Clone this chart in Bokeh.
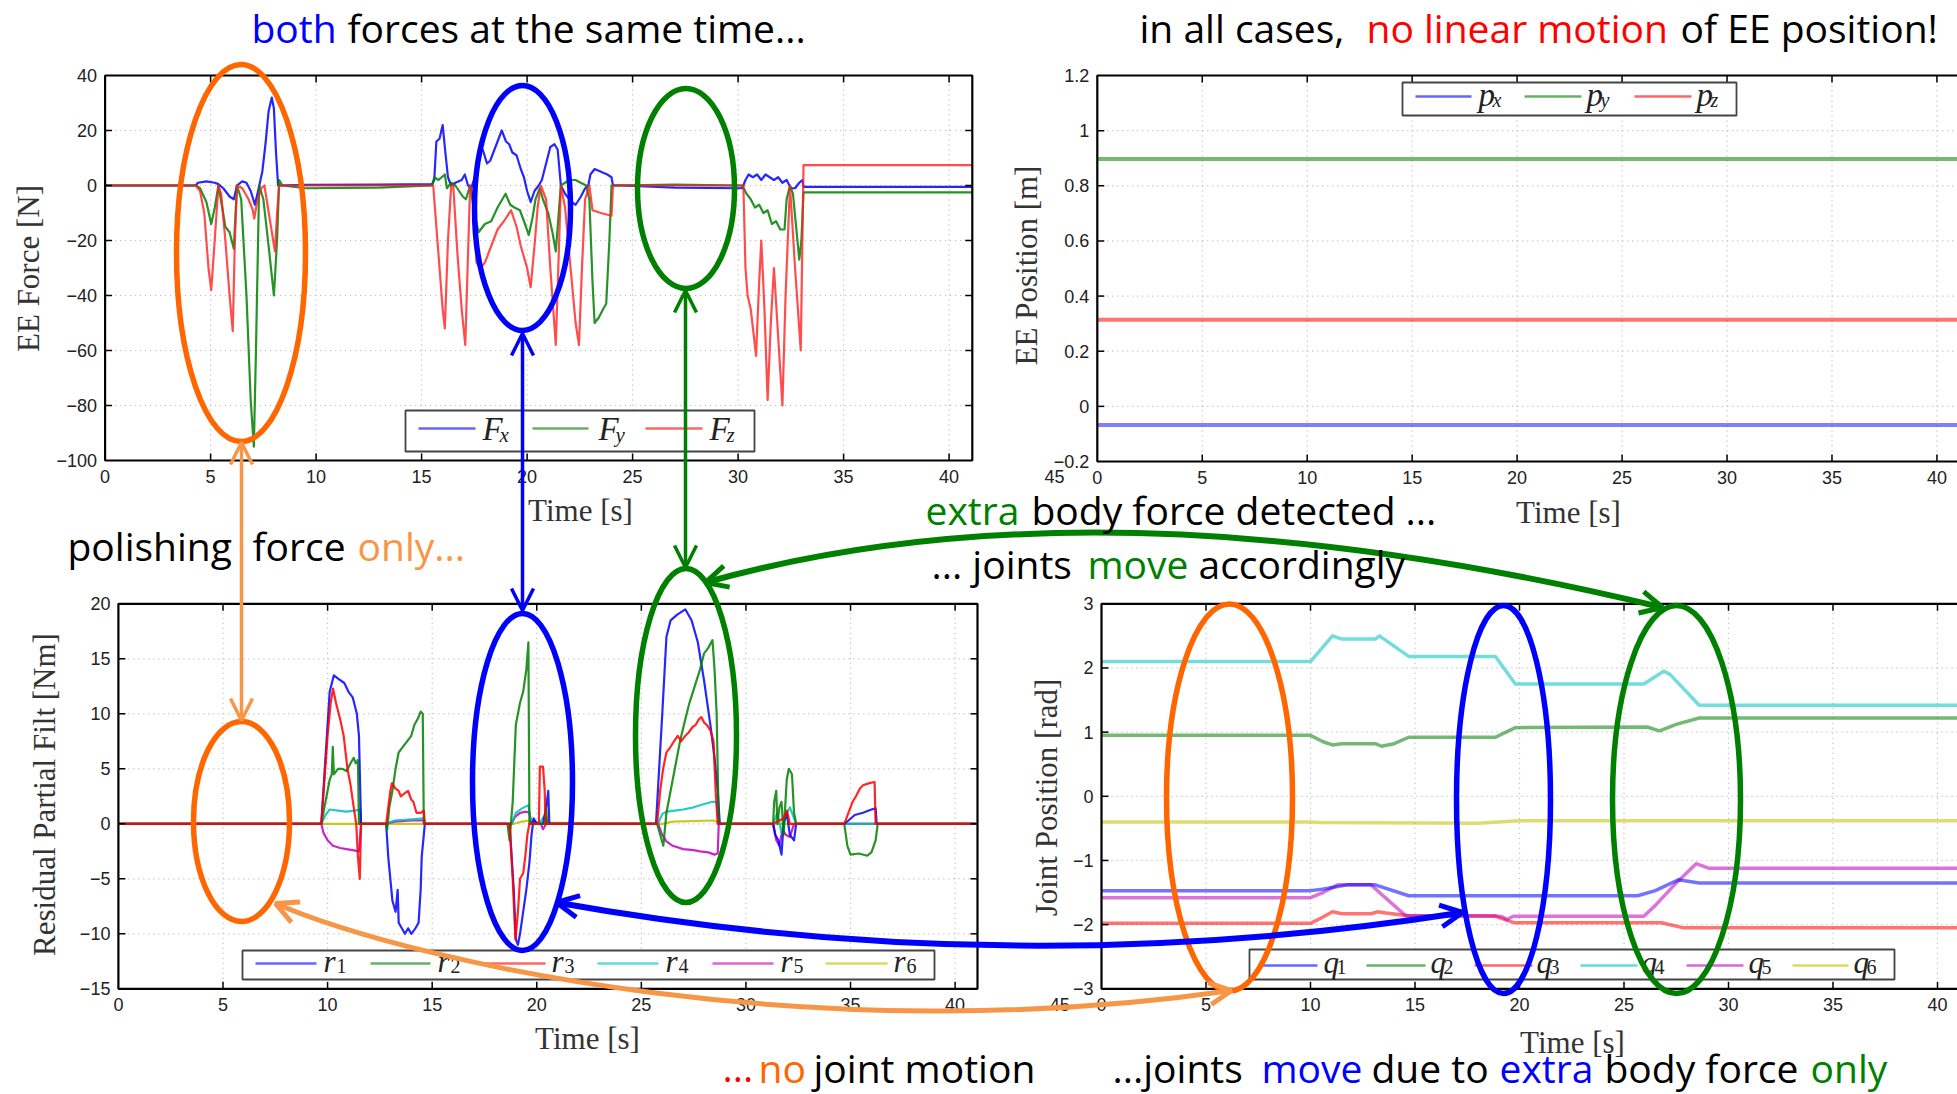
import numpy as np
from bokeh.plotting import figure
from bokeh.models import Range1d, Arrow, OpenHead
from bokeh.core.properties import value
from bokeh.embed import file_html
from bokeh.resources import INLINE

W, H = 1957, 1094

# ---------------- end-effector force [N]: (time [s], value) ----------------
FX = [(0, 0), (4.3, 0), (4.4, 1), (4.8, 1.5), (5.2, 1), (5.37, 0.5), (5.6, -1), (5.9, -4), (6.1, -5),
      (6.25, 0), (6.5, 1.5), (6.7, 1), (6.9, -2), (7.1, -7), (7.25, -2), (7.45, 5), (7.6, 15), (7.75, 27),
      (7.9, 32), (8.0, 28), (8.1, 12), (8.2, 0), (9.5, 0.2), (13, 0.3), (15.5, 0.5), (15.6, 2), (15.7, 16),
      (15.85, 17), (16.0, 22), (16.1, 14), (16.25, 3), (16.4, 0), (16.6, 1), (16.9, 2), (17.05, 4), (17.2, 0),
      (17.35, -1), (17.6, 5), (17.75, 12), (17.9, 13), (18.1, 8), (18.25, 9), (18.5, 14), (18.8, 20),
      (19.0, 16), (19.15, 15), (19.3, 12), (19.5, 11), (19.7, 6), (19.85, 3), (20.0, -2), (20.17, -6),
      (20.35, -2), (20.55, 0), (20.7, 2), (20.9, 8), (21.1, 14), (21.3, 15), (21.45, 13), (21.6, 0),
      (21.8, -3), (22.1, -6), (22.3, -7), (22.55, -4), (22.75, -1), (22.9, 0), (23.0, 4), (23.2, 6),
      (23.5, 5), (23.8, 4), (24.0, 3), (24.07, 0), (24.5, 0), (27, -0.8), (30.2, -1), (30.35, 2), (30.5, 4),
      (30.7, 3), (30.9, 4), (31.1, 2), (31.3, 4), (31.5, 3), (31.7, 2), (31.9, 3), (32.1, 1), (32.3, 2),
      (32.5, -1), (32.7, -1), (32.9, 1), (33.05, 2), (33.1, -0.5), (41.1, -0.5)]
FY = [(0, 0), (4.3, 0), (4.5, -1), (4.8, -6), (5.03, -14), (5.2, -8), (5.37, 0), (5.55, -8), (5.7, -15),
      (5.9, -17), (6.1, -23), (6.25, 0), (6.45, -5), (6.7, -40), (6.9, -78), (7.05, -95), (7.15, -60),
      (7.3, 0), (7.5, -5), (7.75, -22), (8.0, -40), (8.15, -20), (8.25, 2), (8.4, 0), (9.5, -1), (13, -0.8),
      (15.5, 0), (15.6, 3), (15.8, 2), (16.1, 4), (16.2, -1), (16.4, 1), (16.6, 0), (16.95, -4), (17.1, -5),
      (17.3, 0), (17.5, -10), (17.7, -17), (18.0, -14), (18.3, -13), (18.6, -8), (18.98, -3), (19.2, -7),
      (19.4, -8), (19.66, -9), (19.9, -14), (20.08, -18), (20.25, -12), (20.4, -5), (20.6, -1), (20.75, -5),
      (21.0, -10), (21.2, -17), (21.36, -24), (21.5, -10), (21.6, 0), (21.8, 1), (22.0, 2), (22.3, 2),
      (22.54, 1), (22.8, 0), (22.95, -5), (23.1, -35), (23.2, -50), (23.4, -48), (23.6, -45), (23.75, -43),
      (23.9, -20), (24.0, 0), (27, 0.3), (30.2, 0), (30.4, -3), (30.6, -5), (30.8, -8), (31.0, -7),
      (31.2, -10), (31.4, -9), (31.6, -14), (31.8, -13), (32.0, -16), (32.2, -16), (32.3, -5), (32.46, 0),
      (32.6, -3), (32.75, -15), (32.9, -27), (33.0, -20), (33.1, -2.5), (41.1, -2.5)]
FZ = [(0, 0), (4.3, 0), (4.5, -2), (4.7, -10), (4.9, -30), (5.03, -38), (5.15, -25), (5.37, 0), (5.5, -3),
      (5.7, -20), (5.9, -40), (6.05, -53), (6.15, -20), (6.25, 0), (6.5, -1), (6.8, -5), (7.0, -9),
      (7.07, -12), (7.2, -6), (7.4, -1), (7.55, 0), (7.8, -12), (8.05, -24), (8.15, -10), (8.25, 0),
      (15.55, 0), (15.7, -15), (15.85, -30), (16.0, -45), (16.1, -52), (16.25, -20), (16.4, 0), (16.5, 0),
      (16.7, -25), (16.9, -45), (17.07, -58), (17.2, -25), (17.3, 0), (17.45, -5), (17.6, -28), (17.8, -30),
      (18.0, -28), (18.3, -22), (18.6, -16), (18.9, -13), (19.24, -9), (19.5, -15), (19.7, -22), (20.0, -30),
      (20.17, -37), (20.35, -22), (20.5, -8), (20.65, 0), (20.9, -5), (21.1, -30), (21.36, -58), (21.5, -25),
      (21.6, 0), (21.8, -8), (22.0, -25), (22.3, -50), (22.46, -58), (22.6, -30), (22.75, -5), (22.95, 0),
      (23.1, -9), (23.5, -10), (24.0, -11), (24.07, 0), (30.25, 0), (30.35, -30), (30.45, -40), (30.6, -45),
      (30.75, -55), (30.85, -62), (31.0, -35), (31.1, -20), (31.25, -45), (31.4, -78), (31.55, -50),
      (31.7, -30), (31.9, -55), (32.1, -80), (32.25, -40), (32.46, 0), (32.7, -30), (32.97, -60),
      (33.1, 7.4), (41.1, 7.4)]

# ---------------- end-effector position [m] ----------------
PX = [(0, -0.068), (45, -0.068)]
PY = [(0, 0.897), (45, 0.897)]
PZ = [(0, 0.314), (45, 0.314)]

# ---------------- filtered residuals [Nm] ----------------
R1 = [(0, 0), (9.7, 0), (9.9, 6), (10.1, 12), (10.3, 13.5), (10.5, 13.2), (10.8, 12.8), (11.0, 12),
      (11.2, 11.5), (11.4, 10), (11.5, 8), (11.6, 0), (12.8, 0), (12.9, -3), (13.0, -5), (13.1, -7),
      (13.25, -8), (13.35, -6), (13.4, -9), (13.55, -9.5), (13.7, -10), (13.85, -9.5), (14.0, -10),
      (14.2, -9.5), (14.35, -9), (14.45, -6), (14.5, -3), (14.65, 0), (18.7, 0), (18.9, -6), (19.0, -10.5),
      (19.1, -11), (19.2, -10), (19.35, -8), (19.5, -6), (19.65, -3.5), (19.75, -1), (19.85, 0.5),
      (20.0, 0), (20.3, 0), (20.45, 1.5), (20.55, 3), (20.6, 0), (25.7, 0), (25.85, 5), (26.0, 10),
      (26.2, 17), (26.4, 18.5), (26.7, 19), (27.1, 19.5), (27.4, 18.5), (27.7, 16.5), (28.0, 13),
      (28.3, 9), (28.5, 6), (28.65, 3), (28.75, 0), (31.3, 0), (31.4, -1), (31.55, -1.5), (31.7, -2.8),
      (31.8, 0), (31.95, 1), (32.1, -1), (32.3, -1.5), (32.4, 0), (34.7, 0), (34.9, 0.3), (35.2, 0.8),
      (35.6, 1.0), (36.0, 1.3), (36.2, 1.4), (36.25, 0), (41.0, 0)]
R2 = [(0, 0), (9.7, 0), (9.8, 1), (9.95, 2.5), (10.1, 4), (10.2, 4.5), (10.25, 7), (10.3, 4.5), (10.5, 5),
      (10.7, 5), (10.9, 4.8), (11.1, 5.5), (11.25, 6), (11.35, 5.5), (11.45, 5.8), (11.5, 0), (12.8, 0),
      (12.85, -0.5), (12.95, 1.5), (13.1, 3), (13.25, 5), (13.4, 6.5), (13.6, 7), (13.8, 7.5), (14.0, 8),
      (14.15, 9), (14.3, 9.5), (14.45, 10.2), (14.55, 10), (14.6, 0), (18.6, 0), (18.7, -1.5), (18.85, 2),
      (19.0, 9), (19.2, 11), (19.35, 12), (19.5, 14), (19.6, 16.5), (19.65, 0), (20.4, 0), (20.45, 1.5),
      (20.5, 0), (25.75, 0), (25.9, -1), (26.05, -2), (26.2, 1), (26.4, 3), (26.6, 5), (26.85, 7.5),
      (27.1, 9.5), (27.3, 11), (27.55, 12.5), (27.8, 14), (28.0, 15.5), (28.2, 16), (28.4, 16.7),
      (28.5, 14), (28.6, 10), (28.7, 0), (31.3, 0), (31.35, 2), (31.45, 3), (31.5, 0), (31.6, 1.5),
      (31.7, 2), (31.8, -1), (31.95, 4), (32.05, 5), (32.2, 4.5), (32.3, 1), (32.4, 0), (34.7, 0),
      (34.85, -2), (35.0, -2.8), (35.4, -2.7), (35.8, -2.9), (36.0, -2.6), (36.2, -1.5), (36.3, 0), (41.0, 0)]
R3 = [(0, 0), (9.7, 0), (9.85, 4), (10.0, 8), (10.15, 11), (10.26, 12.3), (10.4, 11), (10.6, 9.5),
      (10.77, 8), (10.95, 5), (11.1, 3.5), (11.25, 1.5), (11.37, 0), (11.45, -3), (11.54, -5), (11.6, 0),
      (12.8, 0), (12.9, 1.5), (13.0, 3), (13.08, 3.7), (13.25, 3.2), (13.4, 3), (13.5, 2.5), (13.7, 2.8),
      (13.85, 3), (14.0, 2.2), (14.1, 2), (14.25, 1), (14.45, 1), (14.6, 1.2), (14.65, 0), (18.7, 0),
      (18.85, -5), (18.98, -10.5), (19.1, -8), (19.2, -5), (19.35, -4.5), (19.45, -3), (19.55, -1),
      (19.65, 0), (20.1, 0), (20.15, 5.2), (20.3, 5.2), (20.38, 3), (20.42, 0), (25.75, 0), (25.9, 3),
      (26.04, 5), (26.2, 6.5), (26.4, 7), (26.56, 7.5), (26.74, 8), (26.9, 7.5), (27.1, 8), (27.26, 8.3),
      (27.45, 8.8), (27.6, 9), (27.75, 9.5), (27.87, 9.7), (28.0, 9.2), (28.13, 9), (28.3, 8.5),
      (28.45, 7.5), (28.55, 3), (28.65, 0), (31.3, 0), (31.8, 0.5), (31.96, 1.2), (32.1, 0), (34.7, 0),
      (34.9, 1), (35.1, 2), (35.26, 2.5), (35.45, 3.2), (35.6, 3.5), (35.9, 3.7), (36.15, 3.8), (36.2, 0),
      (41.0, 0)]
R4 = [(0, 0), (9.7, 0), (9.9, 0.8), (10.1, 1.3), (10.5, 1.2), (10.9, 1.1), (11.3, 1.2), (11.55, 1.3),
      (11.6, 0), (12.8, 0), (13.2, 0.3), (14.0, 0.4), (14.6, 0.5), (14.65, 0), (18.8, 0), (19.0, 1.0),
      (19.3, 1.4), (19.6, 1.7), (19.7, 0.4), (20.1, 0), (20.4, 0.8), (20.5, 0), (25.8, 0), (26.0, 0.9),
      (26.2, 1.1), (26.6, 1.2), (27.0, 1.3), (27.5, 1.5), (28.0, 1.8), (28.4, 2.0), (28.6, 2.0), (28.7, 0),
      (31.3, 0), (31.5, 1), (31.7, -0.8), (31.9, 0.8), (32.1, 1.5), (32.3, 0.5), (32.4, 0), (41.0, 0)]
R5 = [(0, 0), (9.7, 0), (9.8, -0.8), (10.0, -1.5), (10.26, -2), (10.6, -2.2), (10.9, -2.3), (11.2, -2.4),
      (11.5, -2.5), (11.6, 0), (12.8, 0), (13.2, 0.2), (14.0, 0.3), (14.6, 0.3), (14.65, 0), (18.8, 0),
      (18.95, 0.6), (19.2, 1.0), (19.5, 1.1), (19.65, 1.0), (19.75, 0), (20.2, 0), (20.3, -0.5), (20.45, 0),
      (25.8, 0), (26.0, -1.0), (26.2, -1.6), (26.5, -2.0), (27.0, -2.3), (27.5, -2.4), (27.8, -2.5),
      (28.2, -2.6), (28.5, -2.8), (28.65, -2.7), (28.7, 0), (31.3, 0), (31.45, -1.5), (31.6, -2),
      (31.75, -0.5), (31.9, -1), (32.1, -1.2), (32.3, 0), (41.0, 0)]
R6 = [(0, 0), (18.9, 0), (19.3, 0.2), (19.6, 0.3), (19.8, 0.1), (26, 0), (26.5, 0.2), (28.5, 0.3),
      (28.7, 0), (41.0, 0)]

# ---------------- joint positions [rad] ----------------
Q1 = [(0, -1.47), (10, -1.47), (10.56, -1.45), (11.75, -1.38), (13.1, -1.38), (14.7, -1.55), (25.65, -1.55),
      (26.5, -1.47), (27.6, -1.3), (28.6, -1.35), (45, -1.35)]
Q2 = [(0, 0.95), (10, 0.95), (10.6, 0.85), (11.05, 0.8), (11.5, 0.82), (13.1, 0.82), (13.4, 0.78),
      (14.0, 0.82), (14.7, 0.92), (18.85, 0.92), (19.8, 1.07), (26.1, 1.08), (26.7, 1.02), (27.5, 1.12),
      (28.6, 1.22), (45, 1.22)]
Q3 = [(0, -1.98), (10, -1.98), (10.6, -1.88), (11.05, -1.8), (11.5, -1.83), (12.9, -1.83), (13.2, -1.8),
      (13.6, -1.82), (14.7, -1.86), (18.85, -1.87), (19.73, -1.97), (26.8, -1.97), (27.85, -2.05), (45, -2.05)]
Q4 = [(0, 2.1), (10, 2.1), (11.05, 2.5), (11.5, 2.45), (13.1, 2.45), (13.3, 2.5), (14.7, 2.18),
      (18.85, 2.18), (19.8, 1.75), (25.95, 1.75), (26.9, 1.95), (27.2, 1.9), (28.6, 1.42), (45, 1.42)]
Q5 = [(0, -1.58), (10, -1.58), (10.6, -1.5), (11.3, -1.38), (12.9, -1.38), (13.3, -1.5), (14.55, -1.86),
      (18.85, -1.86), (19.2, -1.88), (19.4, -1.92), (19.7, -1.87), (25.95, -1.87), (26.5, -1.7),
      (27.5, -1.35), (28.45, -1.05), (29.05, -1.12), (45, -1.12)]
Q6 = [(0, -0.4), (10, -0.4), (10.5, -0.41), (18, -0.42), (20, -0.38), (45, -0.38)]

X_TICKS_L = [0, 5, 10, 15, 20, 25, 30, 35, 40, 45]
X_TICKS_R = [0, 5, 10, 15, 20, 25, 30, 35, 40]
F_TICKS = [40, 20, 0, -20, -40, -60, -80, -100]
P_TICKS = [1.2, 1.0, 0.8, 0.6, 0.4, 0.2, 0.0, -0.2]
P_LABELS = ["1.2", "1", "0.8", "0.6", "0.4", "0.2", "0", "\u22120.2"]
R_TICKS = [20, 15, 10, 5, 0, -5, -10, -15]
Q_TICKS = [3, 2, 1, 0, -1, -2, -3]

BLUE, GREEN, RED = "#0000ff", "#008000", "#ff0000"
CYAN, MAGENTA, YELLOW = "#00bfbf", "#bf00bf", "#bfbf00"
ORANGE, LORANGE = "#ff6600", "#f79646"

SANS = value("Liberation Sans")
SERIF = value("Liberation Serif")
NOTE = value("Open Sans")

p = figure(width=W, height=H, x_range=Range1d(0, W), y_range=Range1d(H, 0),
           output_backend="svg", toolbar_location=None, min_border=0,
           x_axis_location=None, y_axis_location=None)
p.grid.grid_line_color = None
p.outline_line_color = None
p.background_fill_color = "white"


def lab(v):
    s = f"{v:g}"
    return s.replace("-", "\u2212")


def panel(xlim, ylim, box):
    left, right, top, bottom = box
    return p.subplot(x_source=Range1d(*xlim), y_source=Range1d(*ylim),
                     x_target=Range1d(left, right), y_target=Range1d(bottom, top))


def grid(sub, xlim, ylim, xticks, yticks):
    gx = [t for t in xticks if xlim[0] < t < xlim[1]]
    gy = [t for t in yticks if ylim[0] < t < ylim[1]]
    sub.segment(x0=gx, y0=[ylim[0]] * len(gx), x1=gx, y1=[ylim[1]] * len(gx),
                line_color="#b5b5b5", line_dash="1 4", line_width=1.2)
    sub.segment(x0=[xlim[0]] * len(gy), y0=gy, x1=[xlim[1]] * len(gy), y1=gy,
                line_color="#b5b5b5", line_dash="1 4", line_width=1.2)


def dress(sub, xlim, ylim, box, xticks, yticks, ylabels):
    left, right, top, bottom = box
    sx = (right - left) / (xlim[1] - xlim[0])
    sy = (bottom - top) / (ylim[1] - ylim[0])
    gx = [t for t in xticks if xlim[0] < t < xlim[1]]
    gy = [t for t in yticks if ylim[0] < t < ylim[1]]
    n, m = len(gx), len(gy)
    tl = 7.0
    sub.segment(x0=gx, y0=[ylim[0]] * n, x1=gx, y1=[ylim[0] + tl / sy] * n, line_color="black", line_width=1.5)
    sub.segment(x0=gx, y0=[ylim[1]] * n, x1=gx, y1=[ylim[1] - tl / sy] * n, line_color="black", line_width=1.5)
    sub.segment(x0=[xlim[0]] * m, y0=gy, x1=[xlim[0] + tl / sx] * m, y1=gy, line_color="black", line_width=1.5)
    sub.segment(x0=[xlim[1]] * m, y0=gy, x1=[xlim[1] - tl / sx] * m, y1=gy, line_color="black", line_width=1.5)
    sub.quad(left=[xlim[0]], right=[xlim[1]], bottom=[ylim[0]], top=[ylim[1]],
             fill_color=None, line_color="black", line_width=2.2)
    sub.text(x=xticks, y=[ylim[0]] * len(xticks), text=[lab(t) for t in xticks],
             y_offset=9, text_align="center", text_baseline="top",
             text_font=SANS, text_font_size="18px", text_color="#222222")
    sub.text(x=[xlim[0]] * len(yticks), y=yticks, text=ylabels,
             x_offset=-8, text_align="right", text_baseline="middle",
             text_font=SANS, text_font_size="18px", text_color="#222222")


def series(sub, pts, color, width, alpha):
    t, v = zip(*pts)
    sub.line(x=list(t), y=list(v), line_color=color, line_width=width, line_alpha=alpha,
             line_join="round")


# ---- top left: EE force
xl, yl, box = (0, 41.1), (-100, 40), (104.6, 971.8, 75, 460)
s1 = panel(xl, yl, box)
grid(s1, xl, yl, X_TICKS_L, F_TICKS)
series(s1, FX, BLUE, 2.2, 0.85)
series(s1, FY, GREEN, 2.2, 0.85)
series(s1, FZ, "#ff2020", 2.2, 0.8)
dress(s1, xl, yl, box, X_TICKS_L, F_TICKS, [lab(t) for t in F_TICKS])

# ---- top right: EE position
xl2, yl2, box2 = (0, 45), (-0.2, 1.2), (1096.8, 2041.4, 75, 461)
s2 = panel(xl2, yl2, box2)
grid(s2, xl2, yl2, X_TICKS_R, P_TICKS)
series(s2, PX, BLUE, 4, 0.5)
series(s2, PY, GREEN, 4, 0.55)
series(s2, PZ, RED, 4, 0.55)
dress(s2, xl2, yl2, box2, X_TICKS_R, P_TICKS, P_LABELS)

# ---- bottom left: residuals
xl3, yl3, box3 = (0, 41.07), (-15, 20), (117.9, 977, 603.3, 988.3)
s3 = panel(xl3, yl3, box3)
grid(s3, xl3, yl3, X_TICKS_L, R_TICKS)
for pts, c in ((R6, YELLOW), (R5, MAGENTA), (R4, CYAN), (R1, BLUE), (R2, GREEN), (R3, RED)):
    series(s3, pts, c, 2.2, 0.85)
dress(s3, xl3, yl3, box3, X_TICKS_L, R_TICKS, [lab(t) for t in R_TICKS])

# ---- bottom right: joint positions
xl4, yl4, box4 = (0, 45), (-3, 3), (1101, 2041.5, 603.3, 988.3)
s4 = panel(xl4, yl4, box4)
grid(s4, xl4, yl4, X_TICKS_R, Q_TICKS)
for pts, c in ((Q6, YELLOW), (Q2, GREEN), (Q4, CYAN), (Q3, RED), (Q5, MAGENTA), (Q1, BLUE)):
    series(s4, pts, c, 3.5, 0.55)
dress(s4, xl4, yl4, box4, X_TICKS_R, Q_TICKS, [lab(t) for t in Q_TICKS])

# ---- axis titles
AX = [("EE Force [N]", 28, 268, np.pi / 2), ("Time [s]", 580, 510, 0),
      ("EE Position [m]", 1026, 265, np.pi / 2), ("Time [s]", 1568, 512, 0),
      ("Residual Partial Filt [Nm]", 44, 794, np.pi / 2), ("Time [s]", 587, 1038, 0),
      ("Joint Position [rad]", 1046, 797, np.pi / 2), ("Time [s]", 1572, 1042, 0)]
for txt, x, y, a in AX:
    p.text(x=[x], y=[y], text=[txt], angle=a, text_align="center", text_baseline="middle",
           text_font=SERIF, text_font_size="31px", text_color="#333333")


# ---- legends
def legend(box, items, ly, ty, sub_dx, sub_dy, symbol, main_size, sub_size):
    x0, y0, x1, y1 = box
    p.quad(left=[x0], right=[x1], top=[y0], bottom=[y1], fill_color="white",
           line_color="#444444", line_width=1.8)
    for (lx0, lx1, tx, c, s) in items:
        p.segment(x0=[lx0], y0=[ly], x1=[lx1], y1=[ly], line_color=c, line_width=2.4, line_alpha=0.6)
        p.text(x=[tx], y=[ty], text=[symbol], text_font=SERIF, text_font_style="italic",
               text_font_size=main_size, text_baseline="alphabetic", text_color="#222222")
        p.text(x=[tx + sub_dx], y=[ty + sub_dy], text=[s], text_font=SERIF,
               text_font_style="italic" if s.isalpha() else "normal",
               text_font_size=sub_size, text_baseline="alphabetic", text_color="#222222")


legend((405, 410, 754, 451), [(418, 475, 482, BLUE, "x"), (532, 588, 598, GREEN, "y"),
                              (645, 702, 709, RED, "z")], 428, 428, 17, 6, "F", "33px", "21px")
legend((1402, 82, 1736, 115), [(1415, 1471, 1478, BLUE, "x"), (1524, 1581, 1586, GREEN, "y"),
                               (1634, 1691, 1696, RED, "z")], 96, 94, 14, 5, "p", "33px", "20px")
legend((242, 950, 934, 979), [(255, 316, 323, BLUE, "1"), (370, 430, 437, GREEN, "2"),
                              (484, 545, 551, RED, "3"), (597, 658, 665, CYAN, "4"),
                              (712, 773, 780, MAGENTA, "5"), (825, 887, 893, YELLOW, "6")],
       963, 961, 13, 4, "r", "31px", "20px")
legend((1249, 949, 1894, 979), [(1262, 1317, 1323, BLUE, "1"), (1366, 1425, 1430, GREEN, "2"),
                                (1474, 1532, 1536, RED, "3"), (1580, 1637, 1641, CYAN, "4"),
                                (1686, 1743, 1748, MAGENTA, "5"), (1792, 1848, 1853, YELLOW, "6")],
       965, 962, 13, 4, "q", "31px", "20px")

# ---- highlight ellipses
ELL = [(240.5, 252.5, 129, 377, ORANGE), (522, 207.5, 96, 245, BLUE), (685.5, 188, 97, 200, GREEN),
       (241, 821, 96, 200, ORANGE), (522, 781.5, 100, 337, BLUE), (685.5, 735, 101, 334, GREEN),
       (1229, 797, 126, 387, ORANGE), (1503, 799, 94, 388, BLUE), (1676, 799, 128, 388, GREEN)]
for x, y, w, h, c in ELL:
    p.ellipse(x=[x], y=[y], width=[w], height=[h], fill_color=None, line_color=c, line_width=5.5)


def head(c, w):
    return OpenHead(size=22, line_color=c, line_width=w)


# straight double arrows
for x, ya, yb, c in ((241, 442, 720, LORANGE), (522, 333, 610, BLUE), (685, 290, 567, GREEN)):
    p.add_layout(Arrow(start=head(c, 3.5), end=head(c, 3.5), x_start=x, y_start=ya, x_end=x, y_end=yb,
                       line_color=c, line_width=3.5))


def tip(x, y, dx, dy, c, w):
    p.add_layout(Arrow(end=head(c, w), x_start=x + dx, y_start=y + dy, x_end=x, y_end=y,
                       line_alpha=0, line_width=0))


# curved double arrows
p.quadratic(x0=[705], y0=[582], x1=[1662], y1=[607], cx=[1100], cy=[471], line_color=GREEN, line_width=6)
tip(705, 582, 39.5, -11.1, GREEN, 5)
tip(1662, 607, -56.2, -13.6, GREEN, 5)
p.quadratic(x0=[556], y0=[902], x1=[1462], y1=[912], cx=[1009], cy=[983], line_color=BLUE, line_width=6)
tip(556, 902, 45.3, 8.1, BLUE, 5)
tip(1462, 912, -45.3, 7.1, BLUE, 5)
p.bezier(x0=[275], y0=[903], x1=[1231], y1=[990], cx0=[420], cy0=[965], cx1=[820], cy1=[1050],
         line_color=LORANGE, line_width=5)
tip(275, 903, 36.0, 15.4, LORANGE, 5)
tip(1231, 990, -41.1, 6.0, LORANGE, 5)

# ---- annotation texts
BLK = "#000000"
NOTES = [
    (251, 27, "both", BLUE), (347, 27, "forces at the same time...", BLK),
    (1139, 27, "in  all cases,", BLK), (1366, 27, "no linear motion", RED), (1680, 27, "of EE position!", BLK),
    (67, 545, "polishing", BLK), (252, 545, "force", BLK), (357, 545, "only...", LORANGE),
    (925, 509, "extra", GREEN), (1031, 509, "body force detected ...", BLK),
    (931, 563, "... joints", BLK), (1087, 563, "move", GREEN), (1198, 563, "accordingly", BLK),
    (722, 1067, "...", RED), (758, 1067, "no", ORANGE), (813, 1067, "joint motion", BLK),
    (1112, 1067, "...joints", BLK), (1261, 1067, "move", BLUE), (1371, 1067, "due to", BLK),
    (1499, 1067, "extra", BLUE), (1604, 1067, "body force", BLK), (1810, 1067, "only", GREEN),
]
for x, y, txt, c in NOTES:
    p.text(x=[x], y=[y], text=[txt], text_font=NOTE, text_font_size="39px", text_color=c,
           text_align="left", text_baseline="alphabetic")

open("out.html", "w").write(file_html(p, INLINE))
